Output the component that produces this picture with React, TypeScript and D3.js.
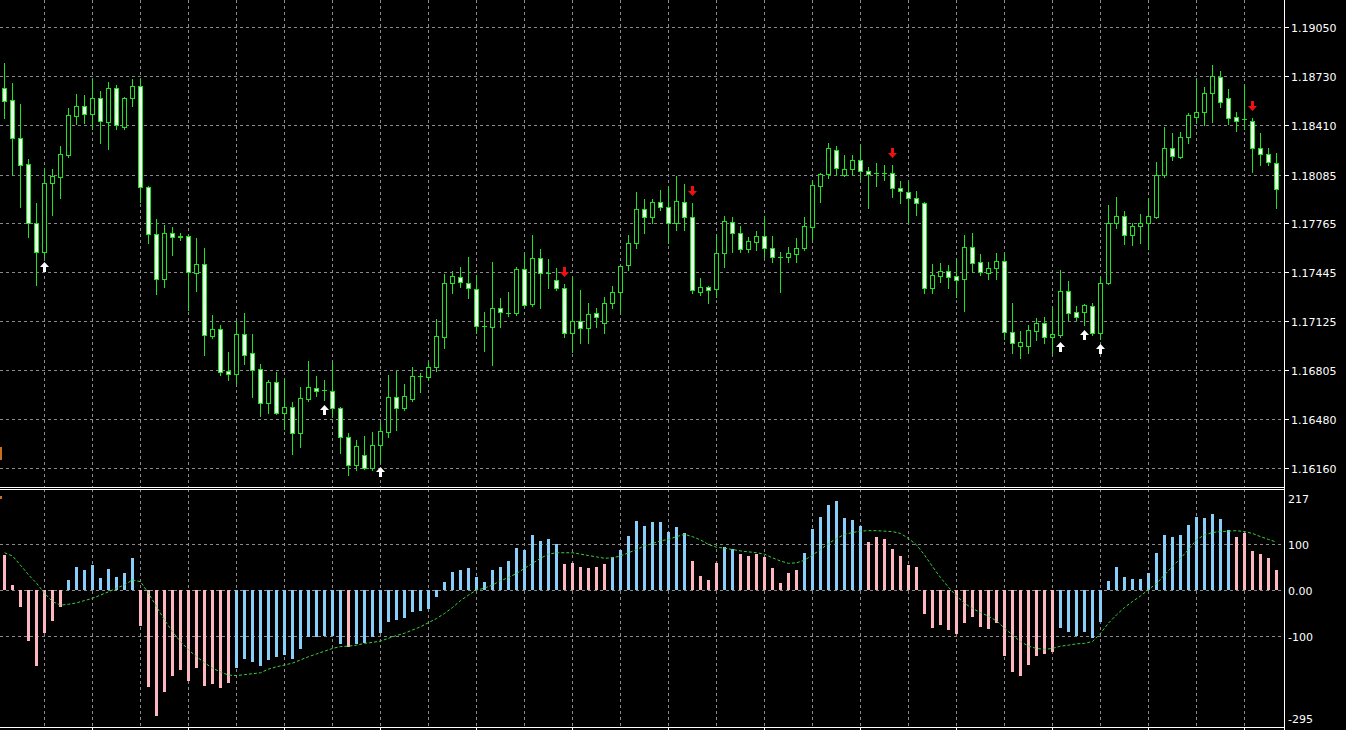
import React from 'react';
import * as d3 from 'd3';

// ---------- DATA ----------
const opens = [
  1.18652, 1.18574, 1.18325, 1.18154, 1.17768, 1.17578, 1.18030, 1.18069, 1.18213, 1.18469,
  1.18534, 1.18482, 1.18587, 1.18430, 1.18652, 1.18397, 1.18587, 1.18665, 1.18004, 1.17696,
  1.17401, 1.17702, 1.17676, 1.17682, 1.17440, 1.17499, 1.17027, 1.17073, 1.16798, 1.16778,
  1.17040, 1.16916, 1.16811, 1.16588, 1.16726, 1.16523, 1.16562, 1.16392, 1.16614, 1.16686,
  1.16673, 1.16667, 1.16555, 1.16365, 1.16182, 1.16247, 1.16162, 1.16313, 1.16398, 1.16628,
  1.16555, 1.16614, 1.16765, 1.16759, 1.16824, 1.17021, 1.17375, 1.17414, 1.17375, 1.17335,
  1.17093, 1.17086, 1.17211, 1.17178, 1.17178, 1.17466, 1.17237, 1.17538, 1.17440, 1.17394,
  1.17342, 1.17047, 1.17126, 1.17080, 1.17178, 1.17112, 1.17243, 1.17316, 1.17492, 1.17637,
  1.17859, 1.17807, 1.17905, 1.17872, 1.17768, 1.17905, 1.17807, 1.17316, 1.17348, 1.17335,
  1.17571, 1.17774, 1.17702, 1.17597, 1.17643, 1.17682, 1.17604, 1.17545, 1.17545, 1.17564,
  1.17604, 1.17742, 1.18010, 1.18089, 1.18246, 1.18082, 1.18122, 1.18181, 1.18108, 1.18095,
  1.18095, 1.18095, 1.17997, 1.17971, 1.17932, 1.17899, 1.17342, 1.17420, 1.17453, 1.17420,
  1.17401, 1.17610, 1.17512, 1.17440, 1.17473, 1.17519, 1.17053, 1.16962, 1.16962, 1.17060,
  1.17112, 1.17021, 1.17034, 1.17322, 1.17184, 1.17184, 1.17224, 1.17047, 1.17375, 1.17768,
  1.17814, 1.17689, 1.17748, 1.17768, 1.17807, 1.18082, 1.18259, 1.18200, 1.18331, 1.18462,
  1.18495, 1.18620, 1.18724, 1.18587, 1.18462, 1.18449, 1.18436, 1.18259, 1.18220, 1.18161,
];
const highs = [
  1.18816, 1.18685, 1.18548, 1.18187, 1.17899, 1.18122, 1.18122, 1.18272, 1.18521, 1.18613,
  1.18607, 1.18711, 1.18633, 1.18692, 1.18672, 1.18593, 1.18711, 1.18711, 1.18010, 1.17794,
  1.17755, 1.17742, 1.17702, 1.17696, 1.17669, 1.17604, 1.17165, 1.17099, 1.16922, 1.17126,
  1.17178, 1.17040, 1.16844, 1.16739, 1.16791, 1.16745, 1.16595, 1.16693, 1.16863, 1.16765,
  1.16739, 1.16857, 1.16562, 1.16392, 1.16346, 1.16372, 1.16398, 1.16457, 1.16772, 1.16798,
  1.16713, 1.16824, 1.16785, 1.16857, 1.17139, 1.17434, 1.17453, 1.17479, 1.17545, 1.17427,
  1.17184, 1.17512, 1.17276, 1.17315, 1.17479, 1.17571, 1.17689, 1.17597, 1.17532, 1.17473,
  1.17368, 1.17414, 1.17329, 1.17243, 1.17211, 1.17283, 1.17355, 1.17492, 1.17689, 1.17971,
  1.17925, 1.17925, 1.17984, 1.18004, 1.18076, 1.18023, 1.17899, 1.17407, 1.17355, 1.17689,
  1.17814, 1.17807, 1.17748, 1.17676, 1.17715, 1.17814, 1.17682, 1.17578, 1.17610, 1.17669,
  1.17807, 1.18043, 1.18095, 1.18292, 1.18272, 1.18213, 1.18213, 1.18279, 1.18135, 1.18161,
  1.18148, 1.18148, 1.18043, 1.18036, 1.17977, 1.17905, 1.17499, 1.17506, 1.17492, 1.17532,
  1.17689, 1.17702, 1.17564, 1.17512, 1.17571, 1.17571, 1.17243, 1.17060, 1.17099, 1.17145,
  1.17152, 1.17217, 1.17460, 1.17388, 1.17224, 1.17237, 1.17243, 1.17414, 1.17886, 1.17938,
  1.17846, 1.17768, 1.17827, 1.17932, 1.18167, 1.18397, 1.18358, 1.18364, 1.18489, 1.18711,
  1.18659, 1.18803, 1.18764, 1.18646, 1.18495, 1.18672, 1.18456, 1.18358, 1.18259, 1.18226,
];
const lows = [
  1.18456, 1.18089, 1.17872, 1.17676, 1.17361, 1.17545, 1.17820, 1.17932, 1.18200, 1.18416,
  1.18423, 1.18384, 1.18292, 1.18253, 1.18384, 1.18384, 1.18534, 1.17905, 1.17637, 1.17302,
  1.17348, 1.17558, 1.17656, 1.17198, 1.17322, 1.16903, 1.17014, 1.16772, 1.16739, 1.16719,
  1.16844, 1.16628, 1.16503, 1.16523, 1.16516, 1.16418, 1.16254, 1.16300, 1.16601, 1.16634,
  1.16608, 1.16496, 1.16260, 1.16116, 1.16149, 1.16156, 1.16149, 1.16201, 1.16365, 1.16411,
  1.16542, 1.16601, 1.16660, 1.16739, 1.16798, 1.16949, 1.17309, 1.17348, 1.17276, 1.17047,
  1.16929, 1.16837, 1.17086, 1.17158, 1.17165, 1.17217, 1.17224, 1.17211, 1.17342, 1.17329,
  1.17021, 1.16922, 1.16981, 1.16981, 1.17086, 1.17047, 1.17211, 1.17184, 1.17460, 1.17604,
  1.17702, 1.17768, 1.17853, 1.17637, 1.17722, 1.17722, 1.17309, 1.17296, 1.17243, 1.17283,
  1.17479, 1.17578, 1.17578, 1.17578, 1.17591, 1.17545, 1.17512, 1.17315, 1.17512, 1.17512,
  1.17591, 1.17656, 1.17905, 1.18063, 1.18082, 1.18076, 1.18082, 1.18056, 1.17866, 1.18010,
  1.18049, 1.17938, 1.17899, 1.17774, 1.17820, 1.17309, 1.17309, 1.17381, 1.17342, 1.17283,
  1.17191, 1.17447, 1.17427, 1.17401, 1.17401, 1.17008, 1.16916, 1.16883, 1.16916, 1.17001,
  1.16981, 1.16916, 1.17021, 1.17132, 1.17132, 1.17099, 1.17034, 1.17008, 1.17368, 1.17735,
  1.17630, 1.17624, 1.17637, 1.17597, 1.17800, 1.18069, 1.18181, 1.18194, 1.18292, 1.18423,
  1.18410, 1.18430, 1.18528, 1.18416, 1.18371, 1.18384, 1.18102, 1.18148, 1.18148, 1.17866,
];
const closes = [
  1.18567, 1.18325, 1.18148, 1.17768, 1.17578, 1.18030, 1.18076, 1.18220, 1.18475, 1.18534,
  1.18482, 1.18587, 1.18436, 1.18652, 1.18410, 1.18587, 1.18665, 1.18004, 1.17696, 1.17401,
  1.17702, 1.17676, 1.17682, 1.17447, 1.17499, 1.17034, 1.17073, 1.16791, 1.16778, 1.17040,
  1.16903, 1.16804, 1.16588, 1.16726, 1.16523, 1.16562, 1.16392, 1.16621, 1.16693, 1.16667,
  1.16670, 1.16555, 1.16365, 1.16182, 1.16306, 1.16162, 1.16313, 1.16405, 1.16628, 1.16555,
  1.16634, 1.16765, 1.16767, 1.16824, 1.17027, 1.17375, 1.17420, 1.17381, 1.17342, 1.17093,
  1.17090, 1.17211, 1.17184, 1.17176, 1.17466, 1.17230, 1.17538, 1.17440, 1.17438, 1.17342,
  1.17047, 1.17126, 1.17080, 1.17171, 1.17152, 1.17243, 1.17316, 1.17486, 1.17637, 1.17859,
  1.17807, 1.17905, 1.17872, 1.17768, 1.17912, 1.17807, 1.17329, 1.17348, 1.17329, 1.17571,
  1.17781, 1.17702, 1.17597, 1.17650, 1.17682, 1.17604, 1.17545, 1.17543, 1.17571, 1.17604,
  1.17748, 1.18017, 1.18089, 1.18259, 1.18128, 1.18122, 1.18181, 1.18108, 1.18089, 1.18093,
  1.18094, 1.17997, 1.17977, 1.17932, 1.17899, 1.17342, 1.17427, 1.17453, 1.17414, 1.17394,
  1.17610, 1.17506, 1.17447, 1.17473, 1.17519, 1.17053, 1.16981, 1.16988, 1.17066, 1.17112,
  1.17021, 1.17040, 1.17322, 1.17178, 1.17152, 1.17230, 1.17047, 1.17375, 1.17768, 1.17814,
  1.17689, 1.17748, 1.17768, 1.17814, 1.18082, 1.18259, 1.18207, 1.18331, 1.18475, 1.18495,
  1.18620, 1.18731, 1.18561, 1.18456, 1.18436, 1.18446, 1.18259, 1.18220, 1.18167, 1.17990,
];

const histogram = [
  76, 11, -36, -111, -165, -94, -67, -38, 22, 50,
  43, 54, 26, 46, 28, 37, 70, -78, -210, -273,
  -221, -186, -174, -198, -169, -208, -204, -212, -202, -170,
  -151, -156, -165, -152, -146, -141, -150, -129, -103, -103,
  -100, -100, -117, -125, -117, -116, -103, -94, -69, -65,
  -60, -47, -45, -41, -16, 17, 40, 43, 47, 28,
  17, 43, 49, 62, 91, 88, 120, 107, 110, 101,
  57, 59, 49, 47, 49, 57, 71, 87, 117, 149,
  139, 147, 147, 127, 136, 123, 63, 30, 22, 58,
  93, 90, 78, 74, 78, 72, 48, 16, 38, 43,
  81, 133, 159, 185, 193, 157, 152, 140, 105, 116,
  111, 89, 74, 54, 51, -52, -82, -76, -88, -96,
  -71, -58, -80, -85, -71, -143, -178, -188, -163, -143,
  -139, -134, -83, -91, -101, -91, -104, -69, 20, 50,
  28, 25, 25, 36, 81, 120, 115, 120, 141, 158,
  156, 165, 154, 130, 116, 123, 85, 78, 70, 43,
];
const signal = [
  81, 74, 54, 33, 15, -7, -25, -33, -31, -28,
  -23, -18, -11, -4, 4, 11, 22, 18, -7, -36,
  -65, -91, -112, -130, -145, -158, -170, -178, -185, -186,
  -184, -182, -180, -172, -167, -163, -159, -152, -145, -139,
  -133, -127, -123, -122, -120, -116, -114, -111, -105, -99,
  -94, -87, -80, -71, -62, -51, -38, -23, -11, 0,
  4, 11, 20, 27, 36, 47, 58, 69, 78, 81,
  81, 81, 78, 75, 72, 69, 70, 74, 81, 88,
  96, 101, 107, 110, 116, 121, 116, 109, 99, 93,
  91, 88, 85, 83, 81, 78, 70, 63, 58, 59,
  65, 76, 88, 101, 112, 121, 125, 128, 129, 129,
  128, 127, 123, 112, 98, 76, 51, 27, 6, -13,
  -29, -40, -49, -57, -67, -83, -98, -112, -122, -127,
  -129, -127, -122, -120, -117, -116, -112, -94, -72, -54,
  -38, -25, -13, 1, 14, 33, 51, 69, 88, 109,
  120, 125, 127, 128, 129, 127, 123, 116, 110, 104,
];

const priceTicks = [1.19050, 1.18730, 1.18410, 1.18085, 1.17765, 1.17445, 1.17125, 1.16805, 1.16480, 1.16160];
const priceTickLabels = ['1.19050', '1.18730', '1.18410', '1.18085', '1.17765', '1.17445', '1.17125', '1.16805', '1.16480', '1.16160'];
const indicatorGrid = [100, 0, -100];
const indicatorLabels = [
  { v: 217, t: '217' },
  { v: 100, t: '100' },
  { v: 0, t: '0.00' },
  { v: -100, t: '-100' },
  { v: -295, t: '-295' },
];
const upSignals = [5, 40, 47, 132, 135, 137];
const downSignals = [70, 86, 111, 156];

// ---------- STYLE ----------
const BG = '#000000';
const CANDLE = '#1fe31f';
const BEAR_FILL = '#eaffea';
const GRID = '#8a8a8a';
const PINK = '#ffb6c1';
const BLUE = '#87cefa';
const SIGNAL = '#3ccf3c';
const FONT = '"DejaVu Sans", Verdana, sans-serif';

export default function App() {
  const W = 1346;
  const H = 730;
  const plotRight = 1284;
  const mainBottom = 487;
  const indTop = 489;
  const indBottom = 727;

  const n = closes.length;
  const x = d3.scaleLinear().domain([0, n - 1]).range([4, 1276]);
  const yP = d3.scaleLinear().domain([1.1616, 1.1905]).range([468.3, 27.3]);
  const yI = d3.scaleLinear().domain([-295, 217]).range([725.7, 490.2]);

  const vGrid = d3.range(n).filter((i) => i % 6 === 5).map((i) => x(i) + 0.5);
  const bottomTicks = d3.range(n).filter((i) => i % 12 === 11).map((i) => x(i) + 0.5);

  const signalLine = d3
    .line<number>()
    .x((_, i) => x(i) + 0.5)
    .y((d) => yI(d))(signal) as string;

  const upArrow = (cx: number, top: number) => {
    const c = cx + 0.5;
    return `M${c},${top} L${c + 4.5},${top + 5} L${c + 1.5},${top + 5} L${c + 1.5},${top + 10} L${c - 1.5},${top + 10} L${c - 1.5},${top + 5} L${c - 4.5},${top + 5} Z`;
  };
  const downArrow = (cx: number, bottom: number) => {
    const c = cx + 0.5;
    return `M${c},${bottom} L${c + 4.5},${bottom - 5} L${c + 1.5},${bottom - 5} L${c + 1.5},${bottom - 10} L${c - 1.5},${bottom - 10} L${c - 1.5},${bottom - 5} L${c - 4.5},${bottom - 5} Z`;
  };

  return (
    <svg
      width={W}
      height={H}
      style={{ position: 'absolute', left: 0, top: 0, display: 'block', background: BG }}
    >
      <rect x={0} y={0} width={W} height={H} fill={BG} />

      {/* grid: main panel */}
      <g stroke={GRID} strokeWidth={1} strokeDasharray="3 3" fill="none">
        {priceTicks.map((p, k) => {
          const y = Math.round(yP(p)) + 0.5;
          return <line key={'hp' + k} x1={0} x2={plotRight} y1={y} y2={y} />;
        })}
        {vGrid.map((gx, k) => (
          <line key={'vm' + k} x1={gx} x2={gx} y1={0} y2={mainBottom} />
        ))}
        {indicatorGrid.map((v, k) => {
          const y = Math.round(yI(v)) + 0.5;
          return <line key={'hi' + k} x1={0} x2={plotRight} y1={y} y2={y} />;
        })}
        {vGrid.map((gx, k) => (
          <line key={'vi' + k} x1={gx} x2={gx} y1={indTop} y2={indBottom} />
        ))}
      </g>

      {/* candles */}
      <g>
        {closes.map((c, i) => {
          const o = opens[i];
          const cx = x(i);
          const bull = c >= o;
          const top = Math.round(yP(Math.max(o, c)));
          const bot = Math.round(yP(Math.min(o, c)));
          const hy = Math.round(yP(highs[i]));
          const ly = Math.round(yP(lows[i]));
          return (
            <g key={'c' + i}>
              <line x1={cx + 0.5} x2={cx + 0.5} y1={hy} y2={ly + 1} stroke={CANDLE} strokeWidth={1} />
              {bot - top < 1 ? (
                <line x1={cx - 2} x2={cx + 3} y1={top + 0.5} y2={top + 0.5} stroke={CANDLE} strokeWidth={1} />
              ) : (
                <rect
                  x={cx - 1.5}
                  y={top + 0.5}
                  width={4}
                  height={bot - top}
                  fill={bull ? BG : BEAR_FILL}
                  stroke={CANDLE}
                  strokeWidth={1}
                />
              )}
            </g>
          );
        })}
      </g>

      {/* signal arrows */}
      <g>
        {upSignals.map((i) => (
          <path key={'u' + i} d={upArrow(x(i), Math.round(yP(lows[i])) + 5)} fill="#ffffff" />
        ))}
        {downSignals.map((i) => (
          <path key={'d' + i} d={downArrow(x(i), Math.round(yP(highs[i])) - 7)} fill="#ee1111" />
        ))}
      </g>

      {/* histogram */}
      <g>
        {histogram.map((v, i) => {
          const y0 = yI(0);
          const y1 = yI(v);
          const up = v >= signal[i];
          return (
            <rect
              key={'h' + i}
              x={x(i) - 1}
              y={Math.round(Math.min(y0, y1))}
              width={3}
              height={Math.max(1, Math.round(Math.abs(y1 - y0)))}
              fill={up ? BLUE : PINK}
            />
          );
        })}
      </g>
      <path d={signalLine} fill="none" stroke={SIGNAL} strokeWidth={1} strokeDasharray="3 2" />

      {/* small indicator marks at left edge */}
      <rect x={0} y={447} width={2} height={13} fill="#c8701e" />
      <rect x={0} y={496} width={2} height={3} fill="#c8701e" />

      {/* frames */}
      <g stroke="#ffffff" strokeWidth={1}>
        <line x1={plotRight + 0.5} x2={plotRight + 0.5} y1={0} y2={H} />
        <line x1={0} x2={plotRight + 1} y1={mainBottom + 0.5} y2={mainBottom + 0.5} />
        <line x1={0} x2={plotRight + 1} y1={indTop + 0.5} y2={indTop + 0.5} />
        <line x1={0} x2={plotRight + 1} y1={indBottom + 0.5} y2={indBottom + 0.5} />
        {priceTicks.map((p, k) => {
          const y = Math.round(yP(p)) + 0.5;
          return <line key={'tk' + k} x1={plotRight} x2={plotRight + 5} y1={y} y2={y} />;
        })}
        {bottomTicks.map((bx, k) => (
          <line key={'bt' + k} x1={bx} x2={bx} y1={indBottom} y2={H} />
        ))}
      </g>

      {/* axis labels */}
      <g fill="#ffffff" fontFamily={FONT} fontSize={11}>
        {priceTicks.map((p, k) => (
          <text key={'pl' + k} x={1291} y={Math.round(yP(p)) + 4.5}>
            {priceTickLabels[k]}
          </text>
        ))}
        {indicatorLabels.map((l, k) => {
          let y = yI(l.v) + 4.5;
          if (k === 0) y = yI(l.v) + 13;
          if (k === indicatorLabels.length - 1) y = yI(l.v) - 3;
          return (
            <text key={'il' + k} x={1288} y={y}>
              {l.t}
            </text>
          );
        })}
      </g>
    </svg>
  );
}
